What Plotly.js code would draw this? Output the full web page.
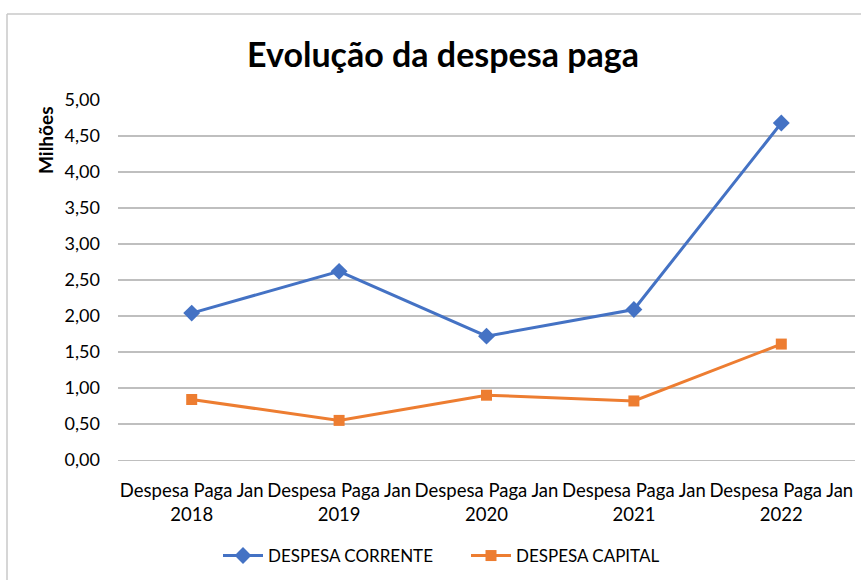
<!DOCTYPE html>
<html>
<head>
<meta charset="utf-8">
<script src="https://cdn.plot.ly/plotly-3.0.1.min.js"></script>
<style>
html,body{margin:0;padding:0;background:#fff;}
#chart{width:861px;height:580px;}
</style>
</head>
<body>
<div id="chart"></div>
<script>
var categories = ["Despesa Paga Jan<br>2018","Despesa Paga Jan<br>2019","Despesa Paga Jan<br>2020","Despesa Paga Jan<br>2021","Despesa Paga Jan<br>2022"];
var despesaCorrente = [2.04, 2.62, 1.72, 2.09, 4.68];
var despesaCapital = [0.84, 0.55, 0.90, 0.82, 1.61];
var yTickVals = [0, 0.5, 1, 1.5, 2, 2.5, 3, 3.5, 4, 4.5, 5];
var yTickText = ["0,00","0,50","1,00","1,50","2,00","2,50","3,00","3,50","4,00","4,50","5,00"];

var W = 861, H = 580, L = 118, R = 6, T = 100, B = 120;
var pw = W - L - R, ph = H - T - B;
function px(x){ return (x - L) / pw; }
function py(y){ return (H - B - y) / ph; }

var font = "Lato, 'Open Sans', sans-serif";

var traces = [
  {x: categories, y: despesaCorrente, name: "DESPESA CORRENTE", type: "scatter", mode: "lines+markers",
   line: {color: "#4472C4", width: 3}, marker: {symbol: "diamond", size: 13, color: "#4472C4"}},
  {x: categories, y: despesaCapital, name: "DESPESA CAPITAL", type: "scatter", mode: "lines+markers",
   line: {color: "#ED7D31", width: 3}, marker: {symbol: "square", size: 11, color: "#ED7D31"}}
];

var layout = {
  width: W, height: H,
  margin: {l: L, r: R, t: T, b: B, autoexpand: false},
  paper_bgcolor: "#fff", plot_bgcolor: "#fff",
  font: {family: font, size: 18, color: "#000"},
  title: {text: "<b>Evolução da despesa paga</b>", font: {family: font, size: 34, color: "#000"},
          x: 443 / W, xref: "container", xanchor: "center", y: 1 - 55 / H, yref: "container", yanchor: "middle"},
  xaxis: {type: "category", range: [-0.5, 4.5], showgrid: false, zeroline: false,
          showline: true, linecolor: "#bfbfbf", linewidth: 1.3, ticks: "", ticklen: 0,
          tickangle: 0, automargin: false, ticklabelstandoff: 13,
          tickfont: {family: font, size: 18.5, color: "#000"}, fixedrange: true},
  yaxis: {range: [0, 5], tickvals: yTickVals, ticktext: yTickText, showgrid: true,
          gridcolor: "#bfbfbf", gridwidth: 1.3, zeroline: false, showline: false, ticks: "",
          automargin: false, ticklabelstandoff: 17,
          tickfont: {family: font, size: 18, color: "#000"}, fixedrange: true},
  showlegend: true,
  legend: {orientation: "h", x: px(218), xanchor: "left", y: py(556), yanchor: "middle",
           font: {family: font, size: 17, color: "#000"}, itemwidth: 40, entrywidth: 193,
           traceorder: "normal"},
  annotations: [
    {text: "<b>Milhões</b>", textangle: -90, xref: "paper", yref: "paper",
     x: px(45), y: py(140), xanchor: "center", yanchor: "middle", showarrow: false,
     font: {family: font, size: 19, color: "#000"}}
  ],
  shapes: [
    {type: "line", xref: "paper", yref: "paper", x0: px(7), x1: px(7), y0: py(14), y1: py(585),
     line: {color: "#c8c8c8", width: 1.5}},
    {type: "line", xref: "paper", yref: "paper", x0: px(7), x1: px(870), y0: py(14), y1: py(14),
     line: {color: "#c8c8c8", width: 1.5}}
  ]
};

Plotly.newPlot("chart", traces, layout, {displayModeBar: false, staticPlot: true});
</script>
</body>
</html>
